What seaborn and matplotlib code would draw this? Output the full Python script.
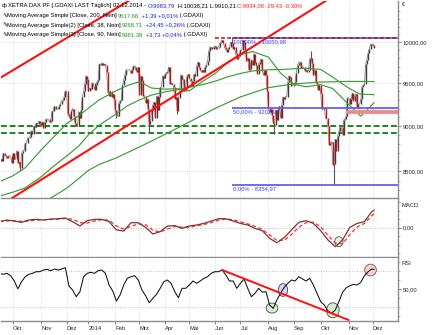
import numpy as np
import pandas as pd
import matplotlib
matplotlib.use("Agg")
import matplotlib.pyplot as plt
import matplotlib.font_manager as fm
import seaborn as sns
from matplotlib.patches import Ellipse
from matplotlib.ticker import FixedLocator, NullFormatter, FuncFormatter

# ---------------- data ----------------
close_2013_09 = [8613, 8637, 8612, 8694, 8675, 8665, 8640, 8665, 8670, 8661, 8594]
close_2013_10 = [8696, 8629, 8630, 8725, 8591, 8597, 8533, 8696, 8725, 8723, 8806, 8806,
                 8866, 8870, 8880, 8948, 8913, 8999, 8987, 9032, 9026, 9054, 9033]
close_2013_11 = [9008, 9050, 8978, 9040, 9078, 9078, 9077, 9040, 9055, 9166, 9168, 9226,
                 9193, 9194, 9193, 9225, 9257, 9292, 9299, 9335, 9405]
close_2013_12 = [9405, 9140, 9113, 9084, 9172, 9200, 9115, 9034, 8996, 9006, 9164, 9085,
                 9182, 9336, 9400, 9489, 9589, 9552]
close_2014_01 = [9400, 9435, 9428, 9506, 9497, 9422, 9473, 9511, 9540, 9733, 9717, 9742,
                 9715, 9730, 9720, 9631, 9392, 9349, 9406, 9336, 9373, 9306]
close_2014_02 = [9186, 9128, 9116, 9265, 9290, 9300, 9478, 9540, 9597, 9662, 9657, 9660,
                 9659, 9618, 9656, 9707, 9699, 9661, 9631, 9692]
close_2014_03 = [9358, 9589, 9542, 9350, 9351, 9265, 9307, 9189, 9017, 9056, 9180, 9242,
                 9277, 9093, 9342, 9188, 9338, 9448, 9451, 9587, 9556]
close_2014_04 = [9603, 9623, 9628, 9695, 9490, 9506, 9490, 9455, 9315, 9340, 9173, 9317,
                 9409, 9601, 9545, 9548, 9401, 9446, 9584, 9603]
close_2014_05 = [9556, 9529, 9467, 9521, 9608, 9581, 9703, 9754, 9699, 9656, 9629, 9659,
                 9639, 9697, 9721, 9769, 9892, 9940, 9939, 9912, 9943]
close_2014_06 = [9950, 9920, 9927, 9947, 9987, 10008, 10028, 9990, 9938, 9912, 9883, 9920,
                 9942, 10004, 9987, 9920, 9938, 9867, 9795, 9815, 9833]
close_2014_07 = [9902, 9902, 10029, 10009, 9906, 9772, 9808, 9659, 9666, 9783, 9719, 9859,
                 9753, 9720, 9613, 9734, 9753, 9797, 9644, 9593, 9653, 9593, 9407]
close_2014_08 = [9210, 9154, 9189, 9130, 9039, 9010, 9180, 9069, 9199, 9226, 9092, 9245,
                 9334, 9314, 9339, 9339, 9510, 9588, 9570, 9462, 9470]
close_2014_09 = [9480, 9507, 9626, 9724, 9747, 9758, 9686, 9700, 9691, 9651, 9659, 9633,
                 9661, 9798, 9799, 9749, 9595, 9661, 9510, 9490, 9422, 9474]
close_2014_10 = [9382, 9195, 9195, 9209, 9086, 9086, 9005, 8788, 8812, 8825, 8572, 8582,
                 8850, 8717, 8886, 8940, 8987, 8988, 8902, 9068, 9083, 9114, 9326]
close_2014_11 = [9325, 9252, 9316, 9377, 9291, 9352, 9369, 9210, 9249, 9252, 9306, 9456,
                 9473, 9484, 9733, 9785, 9861, 9915, 9974, 9980]
close_2014_12 = [9963, 9934]

holidays = ['2013-12-24', '2013-12-25', '2013-12-26', '2013-12-31', '2014-01-01',
            '2014-04-18', '2014-04-21', '2014-05-01', '2014-12-24', '2014-12-25',
            '2014-12-26', '2014-12-31']

wick_dates = ['2013-10-09', '2014-02-04', '2014-03-13', '2014-04-15', '2014-06-20',
              '2014-08-08', '2014-09-19', '2014-10-16']
wick_values = [8500, 9090, 8930, 9140, 10050.98, 8910, 9891, 8354.97]

ma200_dates = ['2013-11-08', '2013-12-02', '2013-12-16', '2014-01-02', '2014-01-15',
               '2014-02-03', '2014-03-03', '2014-04-01', '2014-05-02', '2014-06-02',
               '2014-07-01', '2014-08-01', '2014-09-01', '2014-10-01', '2014-11-03',
               '2014-12-02']
ma200_values = [8195, 8320, 8423, 8510, 8575, 8640, 8765, 8905, 9045, 9200,
                9335, 9445, 9490, 9512, 9520, 9517.66]

ma38_dates = ['2013-09-16', '2013-10-01', '2013-10-15', '2013-11-01', '2013-11-15',
              '2013-12-02', '2013-12-16', '2014-01-02', '2014-01-15', '2014-02-03',
              '2014-02-17', '2014-03-03', '2014-03-17', '2014-04-01', '2014-04-15',
              '2014-05-02', '2014-05-16', '2014-06-02', '2014-06-16', '2014-07-01',
              '2014-07-15', '2014-08-01', '2014-08-15', '2014-09-01', '2014-09-15',
              '2014-10-01', '2014-10-15', '2014-11-03', '2014-11-17', '2014-12-02']
ma38_values = [8390, 8453, 8537, 8730, 8870, 9026, 9117, 9204, 9302, 9402,
               9470, 9516, 9440, 9427, 9433, 9407, 9511, 9613, 9741, 9845,
               9885, 9815, 9620, 9487, 9455, 9481, 9434, 9247, 9111, 9268.71]

ma90_dates = ['2013-09-16', '2013-10-01', '2013-10-15', '2013-11-01', '2013-11-15',
              '2013-12-02', '2013-12-16', '2014-01-02', '2014-01-15', '2014-02-03',
              '2014-02-17', '2014-03-03', '2014-03-17', '2014-04-01', '2014-04-15',
              '2014-05-02', '2014-05-16', '2014-06-02', '2014-06-16', '2014-07-01',
              '2014-07-15', '2014-08-01', '2014-08-15', '2014-09-01', '2014-09-15',
              '2014-10-01', '2014-10-15', '2014-11-03', '2014-11-14', '2014-12-02']
ma90_values = [8240, 8280, 8325, 8440, 8551, 8665, 8775, 8900, 9011, 9130,
               9231, 9300, 9358, 9395, 9419, 9450, 9479, 9520, 9572, 9615,
               9646, 9660, 9663, 9672, 9676, 9665, 9570, 9440, 9370, 9361.39]

# MACD / trigger sampled every 6 trading days, plus the last day
macd_step = 6
macd_values = [71, 91, 79, 63, 91, 99, 91, 102, 106, 114,
               71, 20, 83, 99, 99, 71, -25, -40, 59, 59,
               4, -74, -47, 20, 24, -8, 20, 32, 51, 79,
               106, 106, 79, 51, 32, -8, -35, -126, -177, -118,
               -27, 63, 83, 51, -35, -145, -224, -145, 4, 51,
               71, 189]
trigger_values = [75, 80, 82, 75, 78, 90, 94, 97, 102, 108,
                  100, 60, 55, 80, 93, 90, 20, -15, 15, 45,
                  35, -30, -50, -15, 15, 5, 5, 22, 38, 60,
                  88, 102, 95, 70, 45, 15, -20, -85, -150, -150,
                  -80, 5, 60, 65, 10, -90, -180, -190, -80, 10,
                  50, 140]
macd_last, trigger_last = 208.72, 162.22

# RSI sampled every 3 trading days, plus the last day
rsi_step = 3
rsi_values = [67.4, 66.3, 67.4, 64.8, 58.8, 50.0, 58.0, 63.6, 66.3, 67.4,
              69.2, 69.2, 71.1, 71.8, 70.3, 72.2, 71.1, 72.2, 73.7, 53.0,
              48.7, 41.2, 46.8, 63.6, 67.4, 68.5, 67.4, 70.3, 71.1, 67.4,
              54.3, 47.6, 36.3, 43.1, 54.3, 61.8, 63.6, 64.8, 59.9, 48.7,
              42.4, 34.5, 39.4, 43.9, 50.6, 58.0, 59.9, 56.2, 46.8, 40.1,
              50.6, 50.6, 54.3, 58.8, 56.2, 58.8, 61.8, 63.6, 67.4, 69.2,
              69.2, 71.1, 65.5, 58.8, 58.8, 50.6, 56.2, 61.1, 50.6, 41.2,
              45.0, 50.6, 46.3, 46.8, 31.9, 28.2, 37.5, 45.0, 51.7, 56.2,
              59.9, 58.8, 63.6, 61.1, 58.8, 61.8, 54.3, 45.0, 35.6, 31.9,
              25.2, 22.6, 26.3, 35.6, 46.1, 51.2, 53.5, 55.0, 54.3, 57.3,
              64.8, 69.2, 72.2]
rsi_last = 71.69
last_date = '2014-12-02'

# trend lines / levels
upper_trend_dates, upper_trend_values = ['2013-09-16', '2014-02-19'], [9558, 10545]
lower_trend_dates, lower_trend_values = ['2013-09-30', '2014-10-08'], [8217, 10545]
rsi_trend_dates, rsi_trend_values = ['2014-06-10', '2014-11-03'], [71.1, 15.1]
support_levels = [8995, 8925]
fib_start = '2014-06-20'
fib_levels = [10050.98, 9202.97, 8354.97]
fib_labels = ['100,00% - 10050,98', '50,00% - 9202,97', '0,00% - 8354,97']
high_dash_start = '2014-06-02'
zone_start, zone_level = '2014-10-30', 9165
rsi_mark_dates = ['2014-08-06', '2014-08-19', '2014-10-15', '2014-11-27']
rsi_mark_values = [28.5, 48.7, 26.0, 71.1]
macd_mark_date, macd_mark_value = '2014-10-22', -165

month_starts = ['2013-10-01', '2013-11-01', '2013-12-01', '2014-01-01', '2014-02-01',
                '2014-03-01', '2014-04-01', '2014-05-01', '2014-06-01', '2014-07-01',
                '2014-08-01', '2014-09-01', '2014-10-01', '2014-11-01', '2014-12-01']
month_labels = ['Okt', 'Nov', 'Dez', '2014', 'Feb', 'Mrz', 'Apr', 'Mai', 'Jun', 'Jul',
                'Aug', 'Sep', 'Okt', 'Nov', 'Dez']

# ---------------- setup ----------------
sns.set_style("white")
_names = {f.name for f in fm.fontManager.ttflist}
if 'Liberation Sans Narrow' in _names:
    plt.rcParams['font.family'] = ['Liberation Sans Narrow', 'DejaVu Sans']
    FS = 5.2
else:
    plt.rcParams['font.family'] = ['Liberation Sans', 'DejaVu Sans']
    FS = 4.2

cal = pd.bdate_range('2013-09-16', '2015-01-31')
cal = cal[~cal.isin(pd.to_datetime(holidays))]


def pos(d):
    return int(cal.searchsorted(pd.Timestamp(d)))


closes = np.array(close_2013_09 + close_2013_10 + close_2013_11 + close_2013_12 +
                  close_2014_01 + close_2014_02 + close_2014_03 + close_2014_04 +
                  close_2014_05 + close_2014_06 + close_2014_07 + close_2014_08 +
                  close_2014_09 + close_2014_10 + close_2014_11 + close_2014_12, float)
xs = np.arange(len(closes))
prev = np.r_[closes[0], closes[:-1]]
up = closes >= prev

W, H = 435, 335
fig = plt.figure(figsize=(W / 100, H / 100), dpi=100)


def rect(x0, y0, x1, y1):
    return [x0 / W, 1 - y1 / H, (x1 - x0) / W, (y1 - y0) / H]


ax_p = fig.add_axes(rect(1, 0.5, 398, 198.5))
ax_m = fig.add_axes(rect(1, 199.5, 398, 256.5))
ax_r = fig.add_axes(rect(1, 257.5, 398, 321))
XL = (1.1, 327.6)
green = '#3c9c3c'
grey_axis = '#8c8c8c'
month_pos = [pos(d) for d in month_starts]

for ax in (ax_p, ax_m, ax_r):
    ax.set_xlim(*XL)
    ax.set_facecolor('white')
    for s in ('left', 'top'):
        ax.spines[s].set_visible(False)
    for s in ('right', 'bottom'):
        ax.spines[s].set_color(grey_axis)
        ax.spines[s].set_linewidth(1.0)
    ax.yaxis.tick_right()
    ax.tick_params(axis='y', which='major', direction='out', length=2.2, width=0.6,
                   color='#707070', labelsize=FS, pad=1.2, left=False, right=True)
    ax.tick_params(axis='y', which='minor', direction='out', length=1.3, width=0.5,
                   color='#909090', left=False, right=True)
    for mp in month_pos:
        ax.axvline(mp, color='#d2d2d2', ls=':', lw=0.6, zorder=0)

fmt = FuncFormatter(lambda v, p: f"{v:.2f}".replace('.', ','))

# ---------------- price panel ----------------
ax_p.set_yscale('log')
ax_p.set_ylim(8214, 10541)
ax_p.yaxis.set_major_locator(FixedLocator([8500, 9000, 9500, 10000]))
ax_p.yaxis.set_major_formatter(fmt)
ax_p.yaxis.set_minor_locator(FixedLocator([v for v in range(8300, 10600, 100) if v % 500]))
ax_p.yaxis.set_minor_formatter(NullFormatter())
for lv in [8500, 9000, 9500, 10000]:
    ax_p.axhline(lv, color='#cfcfcf', ls=':', lw=0.6, zorder=0)
ax_p.tick_params(axis='x', bottom=False, labelbottom=False)

for lv in support_levels:
    ax_p.axhline(lv, color='#107a10', ls=(0, (3.2, 1.6)), lw=1.3, zorder=2)

sns.lineplot(x=xs, y=closes, ax=ax_p, color='#8a8a8a', lw=0.6, estimator=None,
             sort=False, legend=False, zorder=3)
ax_p.vlines(xs[up], prev[up], closes[up], color='#3c3c3c', lw=1.0, zorder=4)
ax_p.vlines(xs[~up], prev[~up], closes[~up], color='#c41414', lw=1.0, zorder=4)
wx = [pos(d) for d in wick_dates]
ax_p.vlines(wx, closes[wx], wick_values, color='#555555', lw=0.8, zorder=3)

for d, v in ((ma200_dates, ma200_values), (ma38_dates, ma38_values), (ma90_dates, ma90_values)):
    sns.lineplot(x=[pos(t) for t in d], y=v, ax=ax_p, color=green, lw=0.85,
                 estimator=None, sort=False, legend=False, zorder=5)

ax_p.plot([pos(d) for d in upper_trend_dates], upper_trend_values, color='#ff1010', lw=1.5, zorder=6)
ax_p.plot([pos(d) for d in lower_trend_dates], lower_trend_values, color='#ff1010', lw=1.5, zorder=6)

fx = pos(fib_start)
ax_p.hlines(fib_levels, fx, XL[1], color='#6262ee', lw=1.3, zorder=6)
ax_p.hlines(fib_levels[0], pos(high_dash_start), XL[1], color='#b01018',
            ls=(0, (2.5, 1.5)), lw=1.1, zorder=7)
ax_p.hlines(zone_level, pos(zone_start), XL[1], color='#f08a8a', lw=2.8, zorder=6)
for lv, lab in zip(fib_levels, fib_labels):
    ax_p.annotate(lab, xy=(fx, lv), xytext=(0.8, -0.6), textcoords='offset points',
                  va='top', ha='left', fontsize=FS, color='#3c3cff', zorder=8)

# ---------------- MACD panel ----------------
mpos = list(range(0, macd_step * len(macd_values), macd_step)) + [pos(last_date)]
ax_m.set_ylim(-340, 333)
ax_m.axhline(0, color='#b8b8b8', ls=':', lw=0.7, zorder=0)
sns.lineplot(x=mpos, y=trigger_values + [trigger_last], ax=ax_m, color='#ff2a2a', lw=0.9,
             estimator=None, sort=False, legend=False, zorder=3)
ax_m.lines[-1].set_dashes((3, 2))
sns.lineplot(x=mpos, y=macd_values + [macd_last], ax=ax_m, color='#7a3434', lw=0.9,
             estimator=None, sort=False, legend=False, zorder=4)
ax_m.yaxis.set_major_locator(FixedLocator([0]))
ax_m.yaxis.set_major_formatter(fmt)
ax_m.yaxis.set_minor_locator(FixedLocator([-300, -200, -100, 100, 200, 300]))
ax_m.tick_params(axis='x', bottom=False, labelbottom=False)
ax_m.add_patch(Ellipse((pos(macd_mark_date), macd_mark_value), 8.3 / 1.216, 10 * 11.8,
                       facecolor='#e4f2e0', edgecolor='#404040', lw=0.6, alpha=0.9, zorder=2))
ax_m.text(1.01, 0.886, 'MACD', transform=ax_m.transAxes, fontsize=FS, va='center', ha='left')

# ---------------- RSI panel ----------------
rpos = list(range(0, rsi_step * len(rsi_values), rsi_step)) + [pos(last_date)]
ax_r.set_ylim(14, 85.1)
for lv in (30, 70):
    ax_r.axhline(lv, color='#c0c0c0', ls=':', lw=0.7, zorder=0)
mark_fc = ['#d6ecd2', '#d6d6f4', '#d6ecd2', '#f4cfcf']
mark_ec = ['#405040', '#404060', '#405040', '#805050']
mark_w = [11.7, 9.3, 12.7, 11.7]
mark_h = [10, 12.7, 15, 11.7]
for d, v, fc, ec, w, h in zip(rsi_mark_dates, rsi_mark_values, mark_fc, mark_ec, mark_w, mark_h):
    ax_r.add_patch(Ellipse((pos(d), v), w / 1.216, h / 0.8925, facecolor=fc,
                           edgecolor=ec, lw=0.6, zorder=2))
sns.lineplot(x=rpos, y=rsi_values + [rsi_last], ax=ax_r, color='#101010', lw=0.75,
             estimator=None, sort=False, legend=False, zorder=3)
ax_r.plot([pos(d) for d in rsi_trend_dates], rsi_trend_values, color='#ff1010', lw=1.4, zorder=4)
ax_r.yaxis.set_major_locator(FixedLocator([50]))
ax_r.yaxis.set_major_formatter(fmt)
ax_r.yaxis.set_minor_locator(FixedLocator([20, 30, 40, 60, 70, 80]))
ax_r.text(1.01, 0.913, 'RSI', transform=ax_r.transAxes, fontsize=FS, va='center', ha='left')
ax_r.set_xticks(month_pos)
ax_r.set_xticklabels(month_labels, ha='left')
ax_r.tick_params(axis='x', bottom=True, direction='out', length=2.5, width=0.6,
                 color='#707070', labelsize=FS, pad=1.0)
for ax in (ax_p, ax_m, ax_r):
    ax.set_xlabel('')
    ax.set_ylabel('')

# ---------------- header texts ----------------
def header(x_px, y_px, parts):
    prev_t = ax_p.annotate(parts[0][0], xy=(x_px, H - y_px), xycoords='figure pixels',
                           va='center', ha='left', fontsize=FS, color=parts[0][1],
                           annotation_clip=False, zorder=10)
    for s, c in parts[1:]:
        prev_t = ax_p.annotate(s, xy=(1, 0), xycoords=prev_t, va='bottom', ha='left',
                               fontsize=FS, color=c, annotation_clip=False, zorder=10)


K, B, G, R = '#000000', '#1a1aff', '#12a012', '#ff1a1a'
header(2, 6, [('ф ', K), ('XETRA DAX PF [.GDAXI LAST Täglich] 02.12.2014 - ', K),
              ('O:9983,79', B), (' H:10038,21 L:9910,21 ', K),
              ('C:9934,08 -29,43 -0,30%', R)])
header(2, 15.5, [('∿', K), ('Moving Average Simple [Close, 200, Nein] ', K),
                 ('9517,66', G), (' +1,39 +0,01%', B), (' (.GDAXI)', K)])
header(2, 25, [('∿', K), ('Moving Average Simple(2) [Close, 38, Nein] ', K),
               ('9268,71', G), (' +24,45 +0,26%', B), (' (.GDAXI)', K)])
header(2, 34.5, [('∿', K), ('Moving Average Simple(3) [Close, 90, Nein] ', K),
                 ('9361,39', G), (' +3,73 +0,04%', B), (' (.GDAXI)', K)])
header(2, 205, [('∿', K), ('MACD [12, 26, 9] ', K), ('208,72', '#7a3434'),
                (' Trigger 162,22', R), (' +0,48 +0,23%', B), (' (.GDAXI)', K)])
header(2, 263, [('∿', K), ('Relative Strength Index [Close, 14, 30, 70, Nein] 71,69 ', K),
                ('-2,27 -3,07%', R), (' (.GDAXI)', K)])
fig.text(402 / W, 1 - 5 / H, '€', fontsize=FS, va='center', ha='left')

fig.savefig('out.png', dpi=100)
